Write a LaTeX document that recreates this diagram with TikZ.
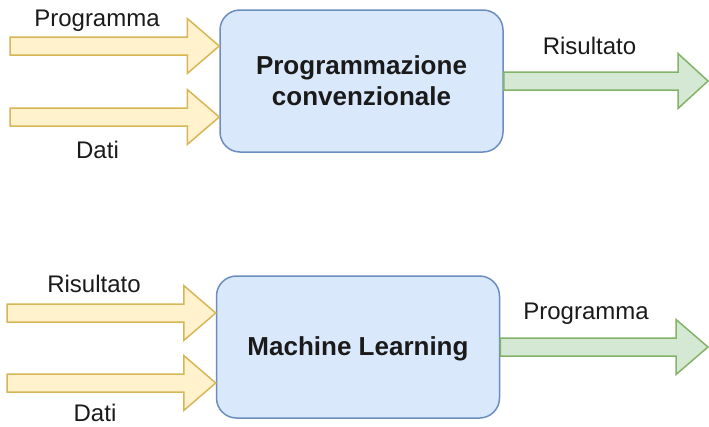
\documentclass[tikz,border=0pt]{standalone}
\usepackage{fontspec}
\setmainfont{Liberation Sans}
\usetikzlibrary{calc}
\definecolor{yfill}{HTML}{FFF2CC}
\definecolor{ydraw}{HTML}{D6B656}
\definecolor{bfill}{HTML}{DAE8FC}
\definecolor{bdraw}{HTML}{6C8EBF}
\definecolor{gfill}{HTML}{D5E8D4}
\definecolor{gdraw}{HTML}{82B366}
\definecolor{txt}{HTML}{1A1A1A}
\tikzset{
  procbox/.style={draw=bdraw, fill=bfill, line width=1.5pt, rounded corners=20pt,
    minimum width=283pt, minimum height=142pt, align=center, text=txt,
    font=\fontsize{26}{31}\selectfont\bfseries, inner sep=0pt},
  inarrow/.style={draw=ydraw, fill=yfill, line width=1.5pt, line join=miter},
  outarrow/.style={draw=gdraw, fill=gfill, line width=1.5pt, line join=miter},
  lbl/.style={text=txt, font=\fontsize{24}{28}\selectfont, inner sep=0pt, anchor=base}
}
\newcommand\fatarr[4]{% style, start, end, head length
  \draw[#1] let \p1=(#2), \p2=(#3) in
    (\x1,\y1+9pt) -- (\x2-#4,\y1+9pt) -- (\x2-#4,\y1+27.5pt) -- (\x2,\y1)
    -- (\x2-#4,\y1-27.5pt) -- (\x2-#4,\y1-9pt) -- (\x1,\y1-9pt) -- cycle;}
\begin{document}
\begin{tikzpicture}[x=1pt,y=-1pt]
\useasboundingbox (0,0) rectangle (709,426);
% boxes
\node[procbox] (conv) at (361.5,81) {Programmazione\\convenzionale};
\node[procbox, text height=18.6pt, text depth=2.6pt] (ml) at (358,347) {Machine Learning};
% coordinates
\coordinate (a1s) at (10,46);
\coordinate (a1e) at (conv.west |- a1s);
\coordinate (a2s) at (10,117);
\coordinate (a2e) at (conv.west |- a2s);
\coordinate (r1e) at (708,81);
\coordinate (r1s) at (conv.east |- r1e);
\coordinate (b1s) at (7,313);
\coordinate (b1e) at (ml.west |- b1s);
\coordinate (b2s) at (7,383);
\coordinate (b2e) at (ml.west |- b2s);
\coordinate (o2e) at (708,347);
\coordinate (o2s) at (ml.east |- o2e);
% arrows
\fatarr{inarrow}{a1s}{a1e}{32pt}
\fatarr{inarrow}{a2s}{a2e}{32pt}
\fatarr{outarrow}{r1s}{r1e}{30pt}
\fatarr{inarrow}{b1s}{b1e}{32pt}
\fatarr{inarrow}{b2s}{b2e}{32pt}
\fatarr{outarrow}{o2s}{o2e}{32pt}
% labels
\node[lbl] (l1) at (97,26) {Programma};
\node[lbl] (l2) at (97.5,158) {Dati};
\node[lbl] (l3) at (589.5,54) {Risultato};
\node[lbl] (l4) at (94,292) {Risultato};
\node[lbl] (l5) at (95,421) {Dati};
\node[lbl] (l6) at (586,319) {Programma};
\end{tikzpicture}
\end{document}
